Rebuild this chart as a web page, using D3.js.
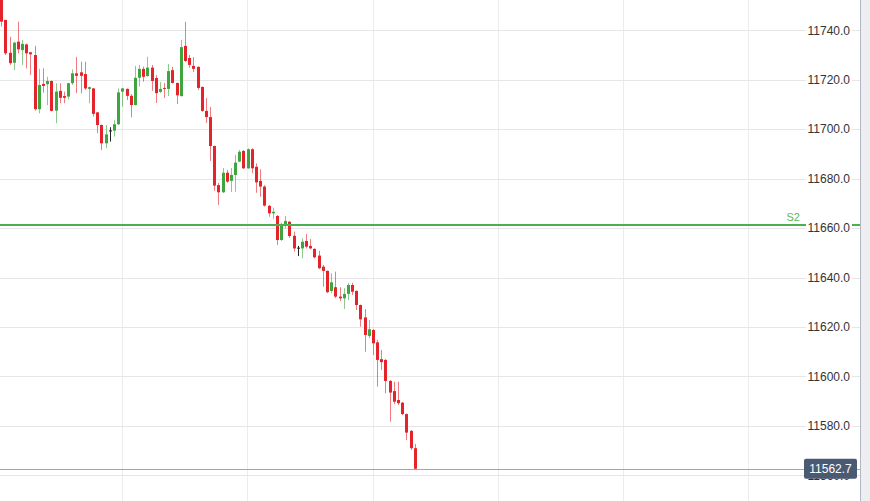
<!DOCTYPE html>
<html>
<head>
<meta charset="utf-8">
<script src="https://cdn.jsdelivr.net/npm/d3@7"></script>
<style>
  html, body { margin: 0; padding: 0; background: #fff; }
  #chart { width: 870px; height: 501px; }
</style>
</head>
<body>
<div id="chart"></div>
<script>
// candle data (oldest first)
const opens = [11753.5, 11744.2, 11730.9, 11726.9, 11735.4, 11732.0, 11734.3, 11731.1, 11730.0, 11708.1,
  11718.3, 11718.2, 11719.5, 11707.5, 11715.5, 11713.4, 11713.2, 11718.6, 11722.6, 11723.0,
  11722.3, 11716.3, 11716.5, 11706.8, 11701.7, 11694.3, 11699.5, 11699.4, 11702.0, 11715.2,
  11716.3, 11713.5, 11709.8, 11720.8, 11724.4, 11721.5, 11724.9, 11720.7, 11715.1, 11716.7,
  11716.3, 11723.9, 11718.7, 11713.4, 11733.7, 11728.8, 11725.6, 11725.2, 11717.1, 11707.4,
  11704.9, 11693.2, 11677.4, 11674.5, 11682.4, 11679.1, 11681.5, 11686.9, 11691.2, 11684.2,
  11691.9, 11684.8, 11679.1, 11676.8, 11669.0, 11666.0, 11664.9, 11655.2, 11660.9, 11662.6,
  11656.9, 11652.1, 11651.8, 11654.8, 11652.8, 11651.6, 11648.9, 11644.4, 11642.7, 11634.6,
  11636.1, 11632.3, 11631.6, 11633.4, 11637.0, 11634.6, 11628.9, 11623.9, 11616.4, 11618.8,
  11613.8, 11607.0, 11606.7, 11598.2, 11594.1, 11590.5, 11589.4, 11584.8, 11578.0, 11571.0];

const highs = [11754.7, 11744.2, 11737.4, 11735.4, 11743.5, 11736.1, 11734.6, 11731.3, 11733.7, 11724.4,
  11724.6, 11721.2, 11719.7, 11718.6, 11718.6, 11715.2, 11718.8, 11724.2, 11729.3, 11727.3,
  11727.3, 11717.2, 11716.7, 11707.0, 11701.9, 11701.7, 11700.8, 11703.7, 11716.5, 11716.7,
  11716.5, 11714.2, 11725.6, 11726.0, 11725.3, 11729.3, 11726.0, 11721.9, 11719.1, 11718.7,
  11726.4, 11725.2, 11718.9, 11736.1, 11743.4, 11730.0, 11729.2, 11725.4, 11717.3, 11712.6,
  11709.0, 11693.4, 11678.3, 11684.3, 11683.5, 11684.3, 11689.6, 11691.6, 11691.6, 11692.3,
  11692.3, 11686.2, 11683.8, 11677.4, 11669.4, 11668.3, 11665.3, 11662.1, 11664.9, 11662.8,
  11658.6, 11652.8, 11655.9, 11657.6, 11655.6, 11651.8, 11650.8, 11645.1, 11642.9, 11641.7,
  11642.4, 11636.1, 11635.7, 11637.9, 11637.9, 11634.8, 11629.1, 11627.2, 11622.9, 11619.1,
  11614.8, 11610.7, 11607.0, 11598.6, 11597.9, 11597.9, 11589.7, 11585.0, 11578.4, 11572.7];

const lows = [11741.5, 11730.0, 11726.0, 11723.9, 11730.7, 11726.0, 11724.6, 11721.9, 11707.5, 11706.4,
  11714.8, 11709.7, 11707.2, 11702.4, 11710.5, 11710.5, 11712.1, 11717.9, 11714.6, 11714.5,
  11715.9, 11710.5, 11705.1, 11698.4, 11691.6, 11692.3, 11695.0, 11697.0, 11701.7, 11709.1,
  11711.8, 11704.8, 11709.6, 11717.2, 11719.2, 11721.2, 11715.5, 11710.6, 11714.6, 11712.6,
  11713.4, 11718.5, 11710.2, 11713.2, 11727.2, 11724.8, 11723.1, 11715.9, 11707.0, 11702.5,
  11687.2, 11675.1, 11669.4, 11674.2, 11678.3, 11674.6, 11674.7, 11686.7, 11683.9, 11683.9,
  11682.2, 11674.3, 11672.7, 11668.7, 11664.6, 11663.6, 11653.2, 11654.8, 11659.9, 11656.0,
  11650.5, 11648.7, 11647.8, 11651.8, 11651.4, 11647.8, 11643.4, 11636.3, 11633.7, 11633.7,
  11631.6, 11630.5, 11627.3, 11630.9, 11633.0, 11626.9, 11620.1, 11610.0, 11615.5, 11608.7,
  11595.9, 11602.6, 11593.2, 11581.7, 11588.8, 11588.5, 11584.4, 11574.3, 11570.3, 11562.5];

const closes = [11743.5, 11730.7, 11726.7, 11735.0, 11732.3, 11734.5, 11730.7, 11730.3, 11708.1, 11717.9,
  11717.5, 11719.5, 11707.4, 11715.2, 11712.7, 11712.7, 11718.6, 11722.6, 11721.6, 11721.6,
  11716.5, 11717.0, 11706.2, 11701.7, 11694.3, 11697.9, 11699.5, 11702.0, 11714.9, 11716.5,
  11713.5, 11709.8, 11720.8, 11724.4, 11721.2, 11724.9, 11719.5, 11714.6, 11716.3, 11716.3,
  11723.5, 11718.7, 11713.7, 11733.2, 11727.6, 11726.0, 11724.4, 11716.7, 11707.4, 11704.9,
  11693.2, 11677.2, 11674.5, 11682.4, 11678.8, 11681.5, 11686.5, 11690.9, 11684.2, 11691.9,
  11684.2, 11678.5, 11676.8, 11669.1, 11666.0, 11666.6, 11655.2, 11661.7, 11662.9, 11656.8,
  11651.8, 11652.1, 11654.5, 11652.5, 11651.8, 11648.2, 11643.8, 11642.7, 11634.1, 11638.1,
  11632.3, 11631.6, 11633.4, 11637.0, 11634.3, 11628.9, 11623.1, 11616.8, 11619.1, 11613.4,
  11606.7, 11605.8, 11598.2, 11593.5, 11589.8, 11589.2, 11584.8, 11577.3, 11571.0, 11562.7];

const priceTicks = [11560, 11580, 11600, 11620, 11640, 11660, 11680, 11700, 11720, 11740];
const timeGrid = [28.9, 58.9, 88.9, 118.9, 148.9, 178.9]; // candle positions of vertical grid lines
const s2Level = 11661.3;
const lastPrice = 11562.7;

const width = 870;
const height = 501;
const plotRight = 860;

const svg = d3.select("#chart")
  .append("svg")
  .attr("width", width)
  .attr("height", height)
  .style("font-family", "'Liberation Sans', Arial, sans-serif");

const x = d3.scaleLinear().domain([-0.29, 205.6]).range([0, plotRight]);
const y = d3.scaleLinear().domain([11560, 11740]).range([475.4, 30.3]);

const up = "#3fa63f";
const down = "#e4232a";

// grid
svg.append("g")
  .selectAll("line")
  .data(timeGrid)
  .join("line")
  .attr("x1", d => Math.round(x(d)) + 0.5)
  .attr("x2", d => Math.round(x(d)) + 0.5)
  .attr("y1", 0)
  .attr("y2", height)
  .style("stroke", "#ececec");

svg.append("g")
  .selectAll("line")
  .data(priceTicks)
  .join("line")
  .attr("x1", 0)
  .attr("x2", plotRight)
  .attr("y1", d => Math.round(y(d)) + 0.5)
  .attr("y2", d => Math.round(y(d)) + 0.5)
  .style("stroke", "#e6e6e6");

// last price line
svg.append("line")
  .attr("x1", 0)
  .attr("x2", plotRight)
  .attr("y1", Math.round(y(lastPrice)) + 0.5)
  .attr("y2", Math.round(y(lastPrice)) + 0.5)
  .style("stroke", "#9ba6b6");

// candles
const candles = opens.map((o, i) => ({ i, o, h: highs[i], l: lows[i], c: closes[i] }));
const colorOf = d => d.c > d.o ? up : (d.c < d.o ? down : "#222");

const g = svg.append("g");

g.selectAll("line.wick")
  .data(candles)
  .join("line")
  .attr("class", "wick")
  .attr("x1", d => Math.round(x(d.i)) + 0.5)
  .attr("x2", d => Math.round(x(d.i)) + 0.5)
  .attr("y1", d => y(d.h))
  .attr("y2", d => y(d.l))
  .style("stroke", colorOf)
  .style("stroke-opacity", d => d.c === d.o ? 1 : 0.6);

g.selectAll("rect.body")
  .data(candles)
  .join("rect")
  .attr("class", "body")
  .attr("x", d => Math.round(x(d.i)) - 1)
  .attr("width", 3)
  .attr("y", d => y(Math.max(d.o, d.c)))
  .attr("height", d => Math.max(1, Math.abs(y(d.o) - y(d.c))))
  .style("fill", colorOf);

// S2 support line
svg.append("line")
  .attr("x1", 0)
  .attr("x2", plotRight)
  .attr("y1", y(s2Level))
  .attr("y2", y(s2Level))
  .style("stroke", "#4caf50")
  .style("stroke-width", 2);

svg.append("text")
  .attr("x", 800)
  .attr("y", y(s2Level) - 4)
  .attr("text-anchor", "end")
  .attr("font-size", "11px")
  .style("fill", "#5cb85c")
  .text("S2");

// price labels
const labels = svg.append("g")
  .selectAll("g")
  .data(priceTicks)
  .join("g")
  .attr("transform", d => `translate(0,${y(d)})`);

labels.append("rect")
  .attr("x", 806)
  .attr("y", -7)
  .attr("width", 46)
  .attr("height", 14)
  .style("fill", "#fff");

labels.append("text")
  .attr("x", 850)
  .attr("dy", "0.35em")
  .attr("text-anchor", "end")
  .attr("font-size", "12px")
  .style("fill", "#333")
  .text(d => d3.format(".1f")(d));

// last price tag
const tag = svg.append("g").attr("transform", `translate(0,${y(lastPrice)})`);
tag.append("rect")
  .attr("x", 804)
  .attr("y", -10)
  .attr("width", 53)
  .attr("height", 20)
  .attr("rx", 2)
  .style("fill", "#4b5a73");
tag.append("text")
  .attr("x", 830.5)
  .attr("dy", "0.35em")
  .attr("text-anchor", "middle")
  .attr("font-size", "12px")
  .style("fill", "#fff")
  .text(d3.format(".1f")(lastPrice));

// right edge panel
svg.append("rect")
  .attr("x", plotRight)
  .attr("y", 0)
  .attr("width", width - plotRight)
  .attr("height", height)
  .style("fill", "#eceef2");
svg.append("line")
  .attr("x1", plotRight + 0.5)
  .attr("x2", plotRight + 0.5)
  .attr("y1", 0)
  .attr("y2", height)
  .style("stroke", "#b4b8c2");
</script>
</body>
</html>
